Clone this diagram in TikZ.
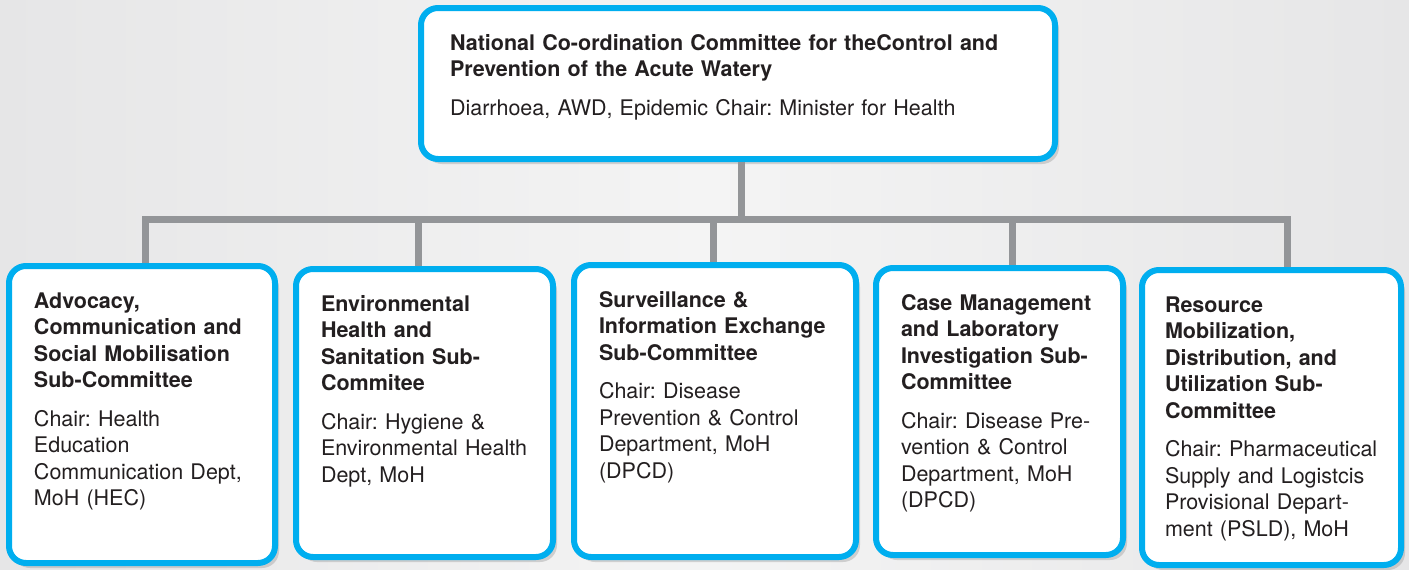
\documentclass[tikz,border=0pt]{standalone}
\usepackage{fontspec}
\setmainfont{TeX Gyre Heros}
\usetikzlibrary{positioning,shadows}
\definecolor{frame}{HTML}{00AEEF}
\definecolor{wire}{HTML}{939598}
\definecolor{ink}{HTML}{231F20}
\definecolor{bgedge}{HTML}{E6E6E7}
\definecolor{bgmid}{HTML}{F4F4F4}

\begin{document}
\begin{tikzpicture}[
  orgbox/.style={draw=frame,fill=white,line width=6pt,rounded corners=17pt,
    drop shadow={shadow xshift=4pt,shadow yshift=-5pt,opacity=.3},
    font=\fontsize{21.5pt}{26.5pt}\selectfont,text=ink,align=left,
    execute at begin node={\frenchspacing\hyphenpenalty=10000\hbadness=10000},
    inner xsep=25pt,inner ysep=27pt,text height=15pt},
  link/.style={draw=wire,line width=7pt}]
  \useasboundingbox (0,0) rectangle (1409pt,-570pt);
  \shade[left color=bgedge,right color=bgedge,middle color=bgmid] (0,0) rectangle (1409pt,-570pt);
  % top committee
  \node[orgbox,inner xsep=29pt,text width=576pt,text depth=82pt,anchor=north west] (top) at (418pt,-5pt)
    {{\bfseries National Co-ordination Committee for theControl and\\Prevention of the Acute Watery}\\[12pt]
     Diarrhoea, AWD, Epidemic Chair: Minister for Health};
  % sub-committees
  \node[orgbox,text width=216pt,text depth=228pt,anchor=north west] (adv) at (6pt,-263pt)
    {{\bfseries Advocacy,\\Communication and\\Social Mobilisation\\Sub-Committee}\\[12pt]
     Chair: Health\\Education\\Communication Dept,\\MoH (HEC)};
  \node[orgbox,text width=207pt,text depth=219pt,right=15pt of adv.north east,anchor=north west,yshift=-3pt] (env)
    {{\bfseries Environmental\\Health and\\Sanitation Sub-\\Commitee}\\[12pt]
     Chair: Hygiene \&\\Environmental Health\\Dept, MoH};
  \node[orgbox,text width=232pt,text depth=223pt,right=15pt of env.north east,anchor=north west,yshift=4pt] (sur)
    {{\bfseries Surveillance \&\\Information Exchange\\Sub-Committee}\\[12pt]
     Chair: Disease\\Prevention \& Control\\Department, MoH\\(DPCD)};
  \node[orgbox,text width=197pt,text depth=218pt,right=14pt of sur.north east,anchor=north west,yshift=-3pt] (cas)
    {{\bfseries Case Management\\and Laboratory\\Investigation Sub-\\Committee}\\[12pt]
     Chair: Disease Pre-\\vention \& Control\\Department, MoH\\(DPCD)};
  \node[orgbox,inner xsep=23pt,text width=213pt,text depth=226pt,right=13pt of cas.north east,anchor=north west,yshift=-2pt] (res)
    {{\bfseries Resource\\Mobilization,\\Distribution, and\\Utilization Sub-\\Committee}\\[12pt]
     Chair:~Pharmaceutical\\Supply and Logistcis\\Provisional Depart-\\ment (PSLD), MoH};
  % connectors
  \coordinate (bar) at (0,-219pt);
  \draw[link] ([xshift=3pt]top.south) -- ([xshift=3pt]top.south |- bar);
  \draw[link] ([xshift=3pt]adv.north) -- ([xshift=3pt]adv.north |- bar) -| ([xshift=16pt]res.north);
  \foreach \n/\dx in {env/-6,sur/-2,cas/13}
    \draw[link] ([xshift=\dx pt]\n.north) -- ([xshift=\dx pt]\n.north |- bar);
\end{tikzpicture}
\end{document}
